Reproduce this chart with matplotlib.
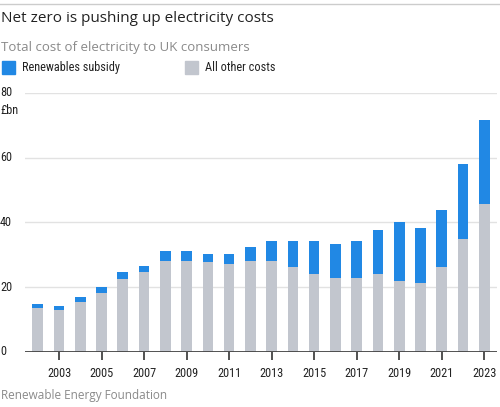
import matplotlib
matplotlib.use("Agg")
import matplotlib.pyplot as plt
import matplotlib.transforms as mtrans
from matplotlib.patches import Rectangle
from matplotlib.lines import Line2D
from matplotlib import font_manager as fm

years = list(range(2002, 2024))
other_costs = [13.4, 13.0, 15.4, 18.0, 22.6, 24.6, 28.2, 28.2, 27.6, 27.1, 28.1,
               28.0, 26.3, 24.1, 22.7, 22.7, 24.1, 21.8, 21.1, 26.3, 34.8, 45.6]
totals = [14.7, 14.1, 16.8, 19.9, 24.7, 26.5, 31.1, 31.1, 30.3, 30.2, 32.4,
          34.1, 34.1, 34.1, 33.3, 34.1, 37.7, 40.1, 38.3, 43.8, 58.1, 71.5]
subsidy = [t - o for t, o in zip(totals, other_costs)]
y_ticks = [0, 20, 40, 60, 80]
x_ticks = list(range(2003, 2024, 2))

BLUE = "#2188e4"
GREY = "#c2c6ce"
MAIN = ["Open Sans", "DejaVu Sans"]


def find_condensed():
    prefs = ["roboto condensed", "liberation sans narrow", "open sans condensed",
             "noto sans condensed", "dejavu sans condensed", "narrow", "condensed"]
    cands = []
    for f in fm.fontManager.ttflist:
        key = (f.name + " " + f.fname).lower()
        if ("condensed" in key or "narrow" in key or str(f.stretch).endswith("condensed")) \
                and f.style == "normal" and "bold" not in key and "light" not in key \
                and "semi" not in key and "extra" not in key and "italic" not in key \
                and "oblique" not in key:
            cands.append((key, f))
    for p in prefs:
        for key, f in cands:
            if p in key:
                return f.fname
    return None


cond_file = find_condensed()
CS = 8.8


def cprop(size):
    if cond_file:
        return fm.FontProperties(fname=cond_file, size=size)
    return fm.FontProperties(family="DejaVu Sans", size=size * 0.85)


W, H = 500, 407
fig = plt.figure(figsize=(5, 4.07), dpi=100)


def fx(px):
    return px / W


def fy(py):
    return 1 - py / H


ax = fig.add_axes([fx(25), fy(351.7), fx(497) - fx(25), fy(93) - fy(351.7)])
ax.bar(years, other_costs, width=0.5, color=GREY, zorder=2)
ax.bar(years, subsidy, width=0.5, bottom=other_costs, color=BLUE, zorder=2)
ax.set_xlim(2001.4, 2023.6)
ax.set_ylim(0, 80)
for s in ax.spines.values():
    s.set_visible(False)
for v in y_ticks[1:]:
    ax.axhline(v, color="#e2e2e2", lw=1, zorder=1)
ax.axhline(0, color="#444444", lw=1.3, zorder=3)
ax.set_yticks([])
ax.set_xticks(x_ticks)
ax.set_xticklabels([str(y) for y in x_ticks], fontproperties=cprop(CS), color="#222222")
ax.tick_params(axis="x", length=6, width=1.2, color="#333333", pad=5)

trans = mtrans.blended_transform_factory(fig.transFigure, ax.transData)
for v in y_ticks:
    ax.text(0.0, v, str(v), transform=trans, ha="left", va="center",
            fontproperties=cprop(CS), color="#222222")
fig.text(fx(0), fy(110), "£bn", ha="left", va="center", fontproperties=cprop(CS), color="#222222")

fig.add_artist(Line2D([0, 1], [fy(4), fy(4)], transform=fig.transFigure, color="#cccccc", lw=1))
fig.text(fx(1), fy(18), "Net zero is pushing up electricity costs", ha="left", va="center",
         fontfamily=MAIN, fontsize=11, color="#222222")
fig.text(fx(1), fy(47), "Total cost of electricity to UK consumers", ha="left", va="center",
         fontfamily=MAIN, fontsize=9.5, color="#8a8a8a")

fig.add_artist(Rectangle((fx(2), fy(74)), fx(13), fy(61) - fy(74), transform=fig.transFigure,
                         color=BLUE))
fig.text(fx(22), fy(67.5), "Renewables subsidy", ha="left", va="center",
         fontproperties=cprop(CS), color="#222222")
fig.add_artist(Rectangle((fx(185), fy(74)), fx(13), fy(61) - fy(74), transform=fig.transFigure,
                         color=GREY))
fig.text(fx(205), fy(67.5), "All other costs", ha="left", va="center",
         fontproperties=cprop(CS), color="#222222")

fig.text(fx(1), fy(396), "Renewable Energy Foundation", ha="left", va="center",
         fontfamily=MAIN, fontsize=8.5, color="#8a8a8a")

fig.savefig("out.png", dpi=100)
